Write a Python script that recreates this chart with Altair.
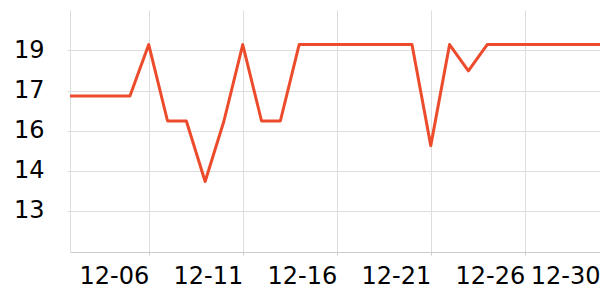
import altair as alt
import pandas as pd

dates = [
    "2023-12-01T00:00", "2023-12-02T00:00", "2023-12-03T00:00", "2023-12-04T00:00",
    "2023-12-05T00:00", "2023-12-06T00:00", "2023-12-07T00:00", "2023-12-08T00:00",
    "2023-12-09T00:00", "2023-12-10T00:00", "2023-12-11T00:00", "2023-12-12T00:00",
    "2023-12-13T00:00", "2023-12-14T00:00", "2023-12-15T00:00", "2023-12-16T00:00",
    "2023-12-17T00:00", "2023-12-18T00:00", "2023-12-19T00:00", "2023-12-20T00:00",
    "2023-12-21T00:00", "2023-12-22T00:00", "2023-12-23T00:00", "2023-12-24T00:00",
    "2023-12-25T00:00", "2023-12-26T00:00", "2023-12-27T00:00", "2023-12-28T00:00",
    "2023-12-29T00:00", "2023-12-30T00:00",
]
values = [
    17.06, 17.06, 17.06, 17.06, 17.06,
    19.26, 16.08, 16.08, 13.94, 16.08,
    19.26, 16.08, 16.08, 19.26, 19.26,
    19.26, 19.26, 19.26, 19.26, 19.26,
    15.17, 19.26, 18.10, 19.26, 19.26,
    19.26, 19.26, 19.26, 19.26, 19.26,
]
x_tick_days = [6, 11, 16, 21, 26, 30]
y_ticks = [13.0, 14.29, 15.72, 17.28, 19.0]

df = pd.DataFrame({"date": dates, "value": values})

x_values = [alt.DateTime(year=2023, month=12, date=d) for d in x_tick_days]
x_domain = [
    alt.DateTime(year=2023, month=12, date=1, hours=19, minutes=30),
    alt.DateTime(year=2023, month=12, date=30),
]

chart = (
    alt.Chart(df)
    .mark_line(color="#ec4b2c", strokeWidth=3, strokeJoin="round", clip=True)
    .encode(
        x=alt.X(
            "date:T",
            scale=alt.Scale(domain=x_domain, nice=False),
            axis=alt.Axis(
                values=x_values,
                format="%m-%d",
                labelAlign="right",
                labelFontSize=24,
                labelColor="#000000",
                labelFont="DejaVu Sans",
                labelOverlap=False,
                labelFlush=False,
                labelPadding=9,
                tickSize=3,
                tickColor="#cccccc",
                domainColor="#cccccc",
                gridColor="#dddddd",
                title=None,
            ),
        ),
        y=alt.Y(
            "value:Q",
            scale=alt.Scale(type="log", domain=[11.8, 20.9], nice=False, zero=False),
            axis=alt.Axis(
                values=y_ticks,
                format=".0f",
                labelFontSize=24,
                labelColor="#000000",
                labelFont="DejaVu Sans",
                labelPadding=23,
                tickSize=3,
                tickColor="#dddddd",
                domainColor="#dddddd",
                gridColor="#dddddd",
                labelOverlap=False,
                title=None,
            ),
        ),
    )
    .properties(
        width=530,
        height=242,
        autosize=alt.AutoSizeParams(type="none"),
        padding={"left": 70, "top": 10, "right": 0, "bottom": 48},
    )
    .configure_view(stroke=None)
)

chart.save("out.html", embed_options={"renderer": "svg", "actions": False})
